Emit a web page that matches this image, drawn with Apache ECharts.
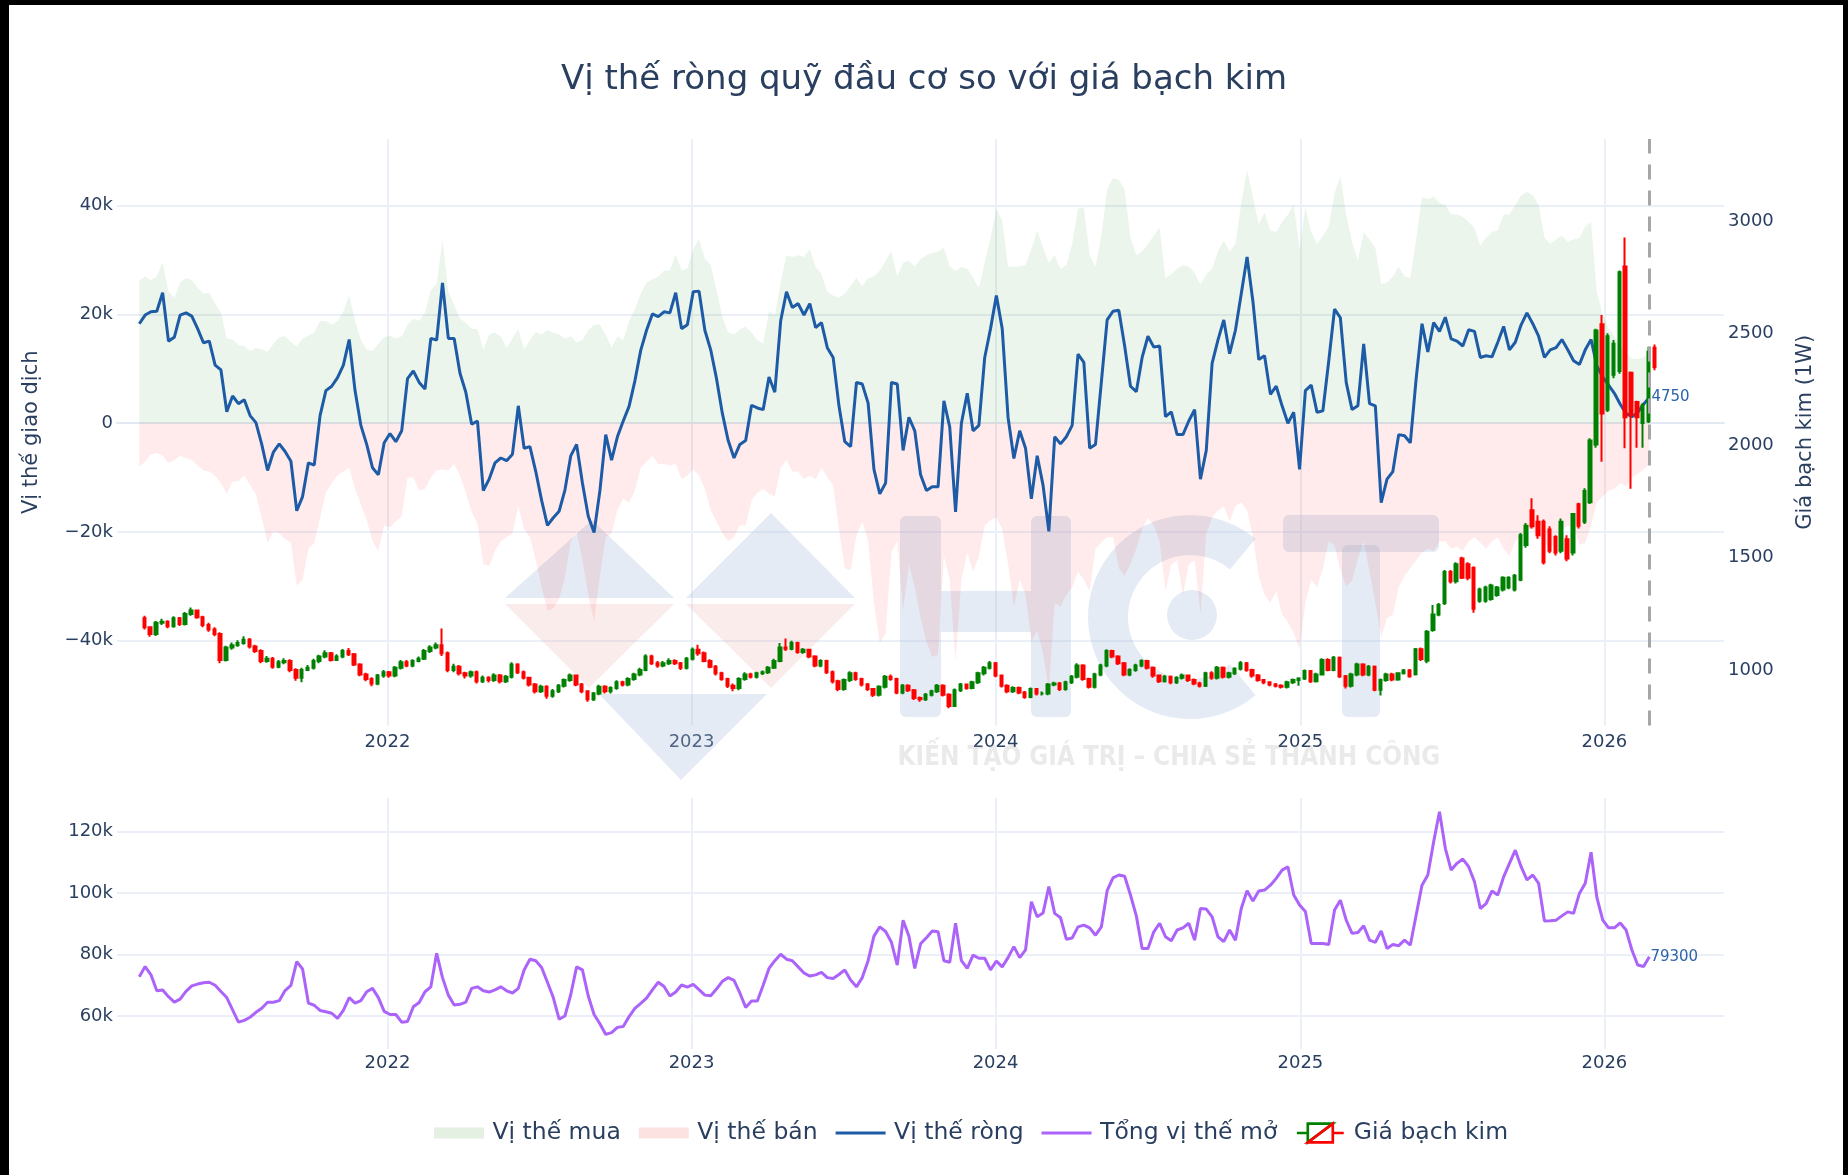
<!DOCTYPE html>
<html>
<head>
<meta charset="utf-8">
<title>Vị thế ròng quỹ đầu cơ so với giá bạch kim</title>
<script src="https://cdn.jsdelivr.net/npm/echarts@6/dist/echarts.min.js"></script>
<style>
  html, body { margin: 0; padding: 0; background: #fff; }
  #chart { position: absolute; left: 0; top: 0; width: 1848px; height: 1175px; }
  #frame {
    position: absolute; left: 0; top: 0; width: 1848px; height: 1175px; box-sizing: border-box;
    border-left: 9px solid #000; border-top: 5px solid #000; border-right: 5px solid #000;
    pointer-events: none;
  }
</style>
</head>
<body>
<div id="chart"></div>
<div id="frame"></div>
<script>
// COT weekly report (thousand contracts), first report Tue 2021-03-09
const firstReport = Date.UTC(2021, 2, 9)

const longPos = [
  26.3, 27.0, 26.3, 27.0, 29.6, 24.2, 23.1, 25.9, 26.7, 26.3,
  24.9, 23.8, 24.0, 22.0, 20.3, 15.6, 15.4, 14.4, 14.2, 13.3,
  13.9, 13.6, 13.1, 14.6, 15.8, 16.0, 14.9, 14.1, 15.6, 16.1,
  16.7, 18.8, 18.8, 18.1, 18.8, 20.6, 23.5, 18.8, 15.3, 13.5,
  13.3, 14.6, 15.8, 16.1, 15.6, 16.0, 18.1, 19.2, 18.8, 20.3,
  24.5, 25.6, 33.8, 24.2, 21.7, 19.2, 18.5, 17.4, 17.3, 13.5,
  16.3, 16.7, 16.0, 13.9, 15.6, 17.4, 13.5, 15.3, 16.8, 16.3,
  17.1, 16.7, 16.3, 15.6, 16.0, 14.9, 15.3, 17.1, 18.1, 18.1,
  16.3, 13.9, 16.0, 15.3, 18.8, 21.0, 23.8, 25.9, 26.5, 27.0,
  28.1, 28.1, 31.1, 28.1, 28.4, 32.0, 33.9, 30.2, 29.1, 24.5,
  19.5, 16.7, 16.3, 17.3, 17.8, 16.7, 15.3, 14.6, 20.6, 19.9,
  25.9, 30.9, 30.6, 30.9, 30.6, 32.0, 28.8, 27.4, 24.2, 23.5,
  23.1, 23.8, 25.2, 26.8, 25.2, 26.7, 27.0, 28.1, 29.9, 31.6,
  27.0, 29.5, 29.9, 28.8, 30.2, 30.9, 31.3, 31.6, 32.3, 28.8,
  28.0, 28.8, 28.4, 26.7, 24.9, 29.5, 34.1, 39.4, 37.3, 28.8,
  28.8, 28.9, 29.1, 32.0, 35.5, 32.3, 29.5, 30.9, 28.4, 29.1,
  33.0, 39.4, 39.8, 30.9, 28.8, 34.5, 43.0, 45.1, 44.8, 43.0,
  34.1, 30.9, 31.6, 33.0, 34.5, 36.0, 26.7, 27.4, 28.4, 29.1,
  28.8, 27.7, 25.5, 27.4, 28.4, 31.6, 33.6, 31.6, 33.0, 40.5,
  46.6, 41.6, 36.6, 38.7, 35.5, 35.2, 37.0, 38.4, 40.2, 32.0,
  39.8, 35.2, 33.0, 34.5, 36.2, 42.3, 45.5, 38.4, 33.4, 29.9,
  35.2, 33.8, 32.3, 25.6, 25.9, 27.0, 28.8, 27.0, 26.7, 33.8,
  41.6, 41.2, 41.7, 40.5, 40.2, 38.4, 38.4, 38.0, 37.0, 35.9,
  32.7, 34.1, 35.2, 35.5, 38.4, 38.4, 40.2, 41.9, 42.6, 41.9,
  40.2, 34.1, 33.0, 33.8, 34.5, 33.4, 33.8, 34.1, 36.2, 37.0,
  24.0, 20.0, 17.5, 16.0, 14.0, 13.0, 11.8, 11.8, 12.2, 12.8
]

const shortPos = [
  -8.0, -7.1, -5.7, -5.5, -6.0, -7.3, -6.8, -6.0, -6.4, -6.8,
  -7.8, -8.7, -8.9, -9.7, -11.0, -13.0, -10.7, -10.7, -9.6, -11.4,
  -13.1, -17.4, -22.0, -19.9, -20.3, -21.3, -22.0, -29.9, -28.8, -23.1,
  -22.0, -17.4, -12.8, -11.0, -9.6, -8.9, -8.2, -12.1, -14.9, -17.8,
  -21.7, -23.5, -18.8, -19.2, -18.1, -17.1, -10.0, -10.0, -12.4, -12.1,
  -10.0, -8.7, -8.5, -8.7, -7.5, -9.6, -12.8, -16.3, -18.5, -25.9,
  -26.3, -23.5, -21.7, -21.0, -20.3, -15.3, -19.5, -21.0, -25.2, -30.2,
  -34.5, -34.1, -32.3, -28.4, -21.7, -20.0, -25.2, -31.6, -36.6, -28.1,
  -21.0, -20.3, -16.0, -13.9, -14.6, -12.4, -8.2, -7.1, -6.0, -7.5,
  -7.5, -7.8, -7.5, -10.3, -9.6, -8.5, -9.6, -12.1, -16.0, -18.1,
  -20.3, -21.7, -21.0, -18.8, -18.8, -14.2, -12.8, -12.1, -13.0, -13.5,
  -8.2, -6.8, -8.9, -8.9, -10.3, -9.6, -10.3, -8.2, -10.0, -11.4,
  -19.5, -26.7, -27.0, -20.6, -18.1, -21.7, -33.1, -40.5, -38.7, -23.8,
  -21.7, -34.5, -26.0, -30.2, -35.9, -40.2, -43.0, -42.6, -24.5, -28.8,
  -44.0, -28.8, -23.8, -27.4, -24.5, -18.8, -17.8, -17.4, -19.5, -25.9,
  -33.8, -28.8, -31.6, -40.2, -38.1, -42.3, -49.0, -33.1, -33.8, -31.6,
  -30.2, -27.4, -28.8, -30.9, -23.1, -22.0, -21.0, -21.0, -26.7, -28.1,
  -25.9, -23.1, -19.5, -17.4, -18.8, -21.7, -30.9, -26.0, -25.2, -31.6,
  -26.0, -25.2, -35.2, -20.3, -17.4, -16.0, -15.3, -18.1, -15.3, -14.6,
  -16.0, -21.0, -28.1, -31.6, -33.1, -30.9, -35.2, -36.6, -38.7, -41.6,
  -33.1, -28.8, -30.2, -26.7, -21.7, -22.5, -27.0, -30.0, -29.0, -25.0,
  -21.7, -27.4, -33.1, -39.4, -35.9, -35.2, -30.2, -28.1, -26.7, -25.2,
  -23.8, -23.1, -23.5, -21.7, -21.7, -23.1, -22.7, -23.5, -21.7, -21.0,
  -22.0, -23.1, -21.7, -21.0, -23.1, -24.5, -21.7, -21.0, -19.5, -19.5,
  -21.0, -22.0, -23.1, -21.7, -19.5, -18.8, -19.2, -22.4, -22.0, -18.8,
  -14.5, -13.5, -12.4, -12.1, -11.0, -11.7, -10.0, -9.3, -8.5, -7.5
]

const netPos = [
  18.3, 19.9, 20.5, 20.6, 24.0, 15.1, 15.8, 19.9, 20.3, 19.7,
  17.4, 14.8, 15.1, 10.7, 9.8, 2.1, 5.0, 3.6, 4.3, 1.4,
  0.1, -3.9, -8.7, -5.3, -3.8, -5.2, -7.0, -16.1, -13.5, -7.3,
  -7.7, 1.4, 6.0, 6.8, 8.4, 10.7, 15.4, 6.0, -0.4, -3.9,
  -8.2, -9.5, -3.6, -1.9, -3.4, -1.4, 8.2, 9.6, 7.5, 6.3,
  15.6, 15.3, 25.8, 15.6, 15.6, 9.2, 5.7, -0.2, 0.4, -12.4,
  -10.3, -7.3, -6.4, -6.9, -5.7, 3.2, -4.6, -4.3, -8.9, -14.2,
  -18.8, -17.4, -16.2, -12.3, -6.0, -3.9, -11.0, -17.1, -20.1, -12.4,
  -2.1, -6.8, -2.5, 0.4, 3.1, 7.8, 13.4, 17.1, 20.1, 19.6,
  20.5, 20.3, 24.0, 17.4, 18.1, 24.2, 24.3, 17.1, 13.5, 8.2,
  1.8, -3.2, -6.4, -3.9, -3.2, 3.3, 2.8, 2.5, 8.5, 5.7,
  18.8, 24.2, 21.3, 22.0, 19.9, 22.0, 17.6, 18.5, 13.9, 12.1,
  3.2, -3.4, -4.3, 7.5, 7.2, 3.7, -8.5, -13.0, -11.0, 7.5,
  7.2, -5.0, 1.1, -1.4, -9.5, -12.4, -11.7, -11.7, 4.1, -0.7,
  -16.3, 0.0, 5.5, -1.4, -0.4, 12.1, 17.4, 23.5, 17.4, 1.1,
  -6.5, -1.4, -4.6, -13.9, -6.0, -11.4, -19.9, -2.5, -3.8, -2.5,
  -0.4, 12.7, 11.2, -4.6, -3.9, 7.5, 19.0, 20.6, 20.8, 14.2,
  6.8, 5.8, 12.1, 16.0, 14.0, 14.2, 1.2, 2.1, -2.1, -2.1,
  0.4, 2.5, -10.3, -5.0, 11.0, 15.3, 19.0, 12.8, 17.1, 23.8,
  30.6, 22.4, 11.7, 12.4, 5.3, 6.8, 3.2, 0.0, 2.0, -8.5,
  6.0, 7.0, 2.0, 2.3, 11.4, 21.0, 19.4, 7.5, 2.5, 3.2,
  14.6, 3.6, 3.2, -14.6, -10.3, -8.9, -2.1, -2.3, -3.6, 8.2,
  18.3, 13.1, 18.5, 16.9, 19.5, 15.5, 15.1, 14.2, 17.2, 16.9,
  12.1, 12.4, 12.2, 14.9, 17.8, 13.5, 14.9, 18.1, 20.3, 18.3,
  16.0, 12.1, 13.5, 13.9, 15.4, 13.5, 11.5, 10.8, 13.5, 15.4,
  10.5, 8.5, 7.0, 5.5, 3.5, 1.8, 1.2, 2.0, 3.5, 4.75
]

const openInterest = [
  72.8, 76.1, 73.4, 68.2, 68.5, 66.3, 64.5, 65.5, 68.0, 69.8,
  70.4, 70.8, 71.0, 70.0, 68.0, 66.0, 62.0, 58.0, 58.6, 59.6,
  61.2, 62.5, 64.5, 64.5, 65.0, 68.3, 70.0, 77.7, 75.3, 64.2,
  63.5, 61.8, 61.4, 60.9, 59.2, 61.8, 66.0, 64.2, 65.0, 67.9,
  69.0, 66.0, 61.5, 60.5, 60.5, 58.0, 58.2, 63.0, 64.4, 67.9,
  69.5, 80.4, 72.5, 66.8, 63.6, 63.8, 64.5, 69.0, 69.5, 68.2,
  67.8, 68.5, 69.5, 68.2, 67.5, 69.0, 75.0, 78.5, 78.0, 75.8,
  71.0, 66.0, 59.0, 60.0, 67.0, 76.0, 75.0, 66.5, 60.5, 57.5,
  54.0, 54.6, 56.3, 56.6, 59.8, 62.5, 64.1, 65.8, 68.5, 71.0,
  69.6, 66.5, 67.8, 70.1, 69.4, 70.3, 68.6, 66.8, 66.6, 68.8,
  71.3, 72.5, 71.6, 67.5, 62.8, 64.9, 64.9, 70.0, 75.5, 78.0,
  80.1, 78.5, 78.0, 76.0, 74.0, 73.0, 73.4, 74.2, 72.5, 72.2,
  73.5, 75.0, 71.7, 69.5, 72.5, 78.0, 86.0, 89.0, 87.5, 84.0,
  76.6, 91.2, 86.0, 75.5, 83.5, 85.5, 87.7, 87.4, 78.0, 77.5,
  90.2, 78.0, 75.5, 79.8, 78.8, 78.8, 75.0, 77.9, 76.0, 79.0,
  82.6, 79.0, 81.5, 97.2, 92.3, 93.5, 102.1, 93.4, 92.0, 85.0,
  85.4, 89.0, 89.6, 88.7, 86.3, 89.0, 100.8, 105.0, 105.9, 105.5,
  99.4, 92.6, 82.0, 82.0, 87.4, 90.2, 85.8, 84.5, 88.0, 88.7,
  90.2, 84.7, 95.0, 94.8, 92.3, 85.8, 84.2, 88.0, 84.7, 95.0,
  100.8, 97.4, 100.7, 101.0, 102.6, 104.8, 107.5, 108.6, 99.4, 96.1,
  94.0, 83.6, 83.6, 83.6, 83.3, 94.5, 97.7, 91.2, 86.9, 87.2,
  89.4, 84.7, 84.0, 87.7, 82.0, 83.3, 82.9, 84.7, 83.1, 92.9,
  102.6, 105.9, 116.7, 126.5, 114.6, 107.5, 109.7, 111.1, 108.6, 103.7,
  95.0, 96.6, 100.7, 99.4, 105.3, 109.7, 114.0, 108.6, 104.3, 105.9,
  103.2, 90.9, 91.0, 91.2, 92.6, 93.9, 93.4, 99.9, 103.2, 113.3,
  98.5, 91.2, 88.7, 88.7, 90.3, 88.0, 81.5, 76.6, 76.1, 79.3
]

// weekly platinum bars (USD/oz), first bar Mon 2021-03-15
const firstBar = Date.UTC(2021, 2, 15)

const opens = [
  1230, 1190, 1160, 1210, 1215, 1195, 1230, 1205, 1250, 1265,
  1235, 1200, 1180, 1160, 1045, 1100, 1110, 1120, 1135, 1105,
  1085, 1040, 1050, 1015, 1035, 1040, 1000, 965, 1000, 1010,
  1040, 1060, 1075, 1045, 1060, 1085, 1070, 1025, 980, 960,
  940, 975, 990, 975, 1010, 1035, 1020, 1040, 1050, 1085,
  1100, 1110, 1075, 1000, 1015, 985, 975, 990, 950, 965,
  955, 975, 950, 970, 1025, 990, 965, 935, 905, 925,
  885, 905, 930, 955, 975, 935, 905, 870, 895, 925,
  905, 920, 945, 935, 960, 980, 1000, 1060, 1030, 1020,
  1030, 1040, 1030, 1010, 1050, 1090, 1075, 1040, 1015, 985,
  960, 930, 920, 960, 980, 970, 985, 990, 1010, 1040,
  1100, 1095, 1120, 1080, 1090, 1060, 1020, 1040, 990, 950,
  915, 955, 985, 960, 935, 915, 890, 925, 970, 960,
  900, 930, 910, 875, 870, 890, 905, 930, 890, 840,
  910, 935, 920, 945, 985, 1010, 1030, 975, 930, 905,
  920, 900, 880, 915, 895, 895, 935, 940, 915, 945,
  970, 1020, 960, 925, 980, 1020, 1085, 1060, 1030, 980,
  1000, 1020, 1040, 1010, 975, 950, 970, 945, 965, 975,
  955, 940, 930, 985, 965, 1010, 970, 985, 1005, 1030,
  1000, 975, 955, 945, 935, 930, 925, 945, 955, 962,
  995, 950, 980, 1045, 1000, 1055, 972, 930, 980, 1024,
  980, 1015, 912, 955, 980, 958, 985, 998, 981, 1092,
  1041, 1178, 1247, 1299, 1437, 1395, 1497, 1471, 1454, 1308,
  1308, 1316, 1334, 1359, 1368, 1359, 1402, 1557, 1712, 1660,
  1660, 1626, 1592, 1531, 1583, 1523, 1738, 1660, 1747, 2005,
  2540, 2160, 2315, 2332, 2798, 2324, 2194, 2100, 2108, 2436
]

const closes = [
  1190, 1160, 1210, 1215, 1195, 1230, 1205, 1250, 1265, 1235,
  1200, 1180, 1160, 1045, 1100, 1110, 1120, 1135, 1105, 1085,
  1040, 1050, 1015, 1035, 1040, 1000, 965, 1000, 1010, 1040,
  1060, 1075, 1045, 1060, 1085, 1070, 1025, 980, 960, 940,
  975, 990, 975, 1010, 1035, 1020, 1040, 1050, 1085, 1100,
  1110, 1075, 1000, 1015, 985, 975, 990, 950, 965, 955,
  975, 950, 970, 1025, 990, 965, 935, 905, 925, 885,
  905, 930, 955, 975, 935, 905, 870, 895, 925, 905,
  920, 945, 935, 960, 980, 1000, 1060, 1030, 1020, 1030,
  1040, 1030, 1010, 1050, 1090, 1075, 1040, 1015, 985, 960,
  930, 920, 960, 980, 970, 985, 990, 1010, 1040, 1100,
  1095, 1120, 1080, 1090, 1060, 1020, 1040, 990, 950, 915,
  955, 985, 960, 935, 915, 890, 925, 970, 960, 900,
  930, 910, 875, 870, 890, 905, 930, 890, 840, 910,
  935, 920, 945, 985, 1010, 1030, 975, 930, 905, 920,
  900, 880, 915, 895, 895, 935, 940, 915, 945, 970,
  1020, 960, 925, 980, 1020, 1085, 1060, 1030, 980, 1000,
  1020, 1040, 1010, 975, 950, 970, 945, 965, 975, 955,
  940, 930, 985, 965, 1010, 970, 985, 1005, 1030, 1000,
  975, 955, 945, 935, 930, 925, 945, 955, 962, 995,
  950, 980, 1045, 1000, 1055, 972, 930, 980, 1024, 980,
  1015, 912, 955, 980, 958, 985, 998, 972, 1092, 1049,
  1170, 1247, 1290, 1437, 1395, 1471, 1411, 1411, 1273, 1359,
  1368, 1376, 1368, 1411, 1411, 1420, 1600, 1643, 1640, 1600,
  1480, 1531, 1523, 1660, 1497, 1695, 1643, 1798, 2022, 2513,
  2143, 2487, 2453, 2772, 2126, 2135, 2126, 2178, 2418, 2350
]

const lows = [
  1180, 1148, 1152, 1200, 1186, 1188, 1196, 1198, 1242, 1228,
  1190, 1170, 1150, 1030, 1038, 1090, 1104, 1112, 1096, 1076,
  1030, 1032, 1005, 1008, 1026, 990, 952, 945, 995, 1002,
  1030, 1052, 1038, 1040, 1052, 1062, 1018, 972, 950, 928,
  932, 965, 966, 968, 1002, 1012, 1012, 1034, 1044, 1076,
  1092, 1062, 990, 990, 975, 962, 966, 940, 942, 944,
  946, 940, 942, 962, 982, 958, 926, 895, 898, 872,
  876, 898, 922, 948, 928, 896, 858, 862, 888, 895,
  895, 912, 926, 928, 952, 972, 994, 1022, 1010, 1012,
  1022, 1022, 1000, 1002, 1042, 1064, 1034, 1008, 976, 952,
  920, 905, 910, 952, 962, 962, 978, 982, 1004, 1034,
  1085, 1088, 1072, 1072, 1052, 1012, 1012, 982, 940, 905,
  908, 946, 952, 926, 906, 880, 882, 918, 952, 892,
  892, 902, 866, 858, 862, 882, 898, 882, 830, 836,
  902, 912, 914, 938, 976, 1002, 968, 922, 896, 898,
  892, 872, 874, 886, 886, 888, 928, 906, 908, 938,
  962, 952, 918, 918, 972, 1012, 1052, 1022, 972, 972,
  992, 1012, 1002, 966, 942, 944, 936, 938, 958, 946,
  932, 922, 924, 956, 958, 962, 962, 978, 998, 992,
  966, 948, 936, 928, 922, 918, 918, 938, 930, 955,
  942, 944, 975, 994, 994, 964, 918, 922, 972, 972,
  972, 905, 886, 948, 950, 952, 980, 966, 975, 1040,
  1030, 1170, 1240, 1290, 1385, 1385, 1405, 1400, 1255, 1300,
  1300, 1308, 1326, 1350, 1360, 1350, 1395, 1545, 1630, 1585,
  1470, 1520, 1510, 1520, 1485, 1510, 1630, 1650, 1740, 1990,
  1928, 2150, 2300, 2320, 1988, 1807, 1990, 1990, 2100, 2335
]

const highs = [
  1242, 1195, 1218, 1228, 1222, 1240, 1236, 1258, 1278, 1270,
  1242, 1210, 1190, 1168, 1108, 1122, 1132, 1150, 1142, 1112,
  1092, 1062, 1058, 1045, 1052, 1048, 1008, 1010, 1022, 1050,
  1068, 1088, 1080, 1070, 1094, 1098, 1076, 1030, 988, 968,
  982, 1000, 996, 1018, 1044, 1045, 1048, 1060, 1094, 1110,
  1122, 1185, 1082, 1028, 1022, 992, 998, 998, 975, 972,
  985, 982, 978, 1034, 1030, 998, 970, 942, 934, 932,
  915, 938, 962, 984, 980, 942, 910, 902, 934, 932,
  928, 954, 952, 968, 988, 1010, 1070, 1068, 1040, 1040,
  1052, 1048, 1036, 1058, 1100, 1112, 1082, 1048, 1022, 992,
  966, 940, 968, 990, 988, 992, 998, 1018, 1050, 1120,
  1140, 1130, 1126, 1098, 1095, 1066, 1048, 1046, 998, 956,
  962, 994, 992, 966, 942, 920, 932, 978, 980, 966,
  938, 936, 915, 882, 898, 912, 938, 936, 896, 918,
  942, 940, 952, 992, 1018, 1040, 1036, 980, 936, 928,
  926, 906, 922, 920, 904, 942, 948, 946, 952, 978,
  1030, 1026, 966, 988, 1028, 1092, 1090, 1066, 1036, 1008,
  1028, 1048, 1046, 1016, 980, 978, 976, 972, 984, 980,
  962, 948, 992, 994, 1018, 1016, 992, 1012, 1040, 1036,
  1006, 982, 960, 950, 942, 936, 952, 962, 968, 1002,
  1000, 988, 1052, 1052, 1062, 1060, 978, 988, 1032, 1030,
  1022, 1020, 962, 988, 988, 990, 1004, 1004, 1098, 1100,
  1178, 1290, 1298, 1445, 1445, 1480, 1505, 1480, 1462, 1366,
  1375, 1384, 1374, 1418, 1418, 1428, 1610, 1655, 1765, 1690,
  1670, 1640, 1600, 1675, 1600, 1700, 1745, 1810, 2032, 2520,
  2582, 2500, 2470, 2780, 2927, 2330, 2200, 2190, 2440, 2450
]

const WEEK = 7 * 24 * 3600 * 1000
const reportDates = netPos.map((_, i) => firstReport + i * WEEK)
const barDates = closes.map((_, i) => firstBar + i * WEEK)
const lastReport = reportDates[reportDates.length - 1]

const xMin = Date.UTC(2021, 1, 10, 5)
const xMax = Date.UTC(2026, 4, 24, 14)

const FONT = 'DejaVu Sans'
const TEXT = '#2a3f5f'
const GRID_LINE = '#ebf0f8'
const UP = '#008000'
const DOWN = '#ff0000'

function kLabel(v) {
  if (v === 0) return '0'
  return (v < 0 ? '\u2212' : '') + Math.abs(v) + 'k'
}
const yearLabel = (v) => String(new Date(v).getUTCFullYear())
const pairs = (dates, vals) => vals.map((v, i) => [dates[i], v])

const candleSvg =
  "<svg xmlns='http://www.w3.org/2000/svg' width='50' height='24' viewBox='-16 -7.68 32 15.36'>" +
  "<path d='M-15,0H-8M-8,6V-6H8Z' fill='none' stroke='" + UP + "' stroke-width='1.7'/>" +
  "<path d='M15,0H8M8,-6V6H-8Z' fill='none' stroke='" + DOWN + "' stroke-width='1.7'/></svg>"
const candleIcon = 'image://data:image/svg+xml;charset=utf-8,' + encodeURIComponent(candleSvg)

function timeAxis(gridIndex, margin, showLine) {
  return {
    type: 'time', gridIndex, min: xMin, max: xMax, splitNumber: 5,
    axisLine: { show: showLine, lineStyle: { color: '#e3e9f2', width: 2 } },
    axisTick: { show: false },
    axisLabel: {
      formatter: yearLabel, color: TEXT, fontSize: 18, margin,
      showMinLabel: false, showMaxLabel: false
    },
    splitLine: { show: true, showMinLine: false, showMaxLine: false, lineStyle: { color: GRID_LINE, width: 2 } }
  }
}

// HCT watermark
const WM_BLUE = 'rgba(165,188,218,0.30)'
const WM_RED = 'rgba(225,120,120,0.14)'
const watermark = [
  { type: 'polygon', shape: { points: [[592, 520], [674, 598], [505, 598]] }, style: { fill: WM_BLUE } },
  { type: 'polygon', shape: { points: [[771, 513], [855, 598], [686, 598]] }, style: { fill: WM_BLUE } },
  { type: 'polygon', shape: { points: [[505, 604], [674, 604], [589, 688]] }, style: { fill: WM_RED } },
  { type: 'polygon', shape: { points: [[686, 604], [855, 604], [771, 688]] }, style: { fill: WM_RED } },
  { type: 'polygon', shape: { points: [[599, 694], [767, 694], [681, 780]] }, style: { fill: WM_BLUE } },
  { type: 'rect', shape: { x: 900, y: 516, width: 41, height: 201, r: 6 }, style: { fill: WM_BLUE } },
  { type: 'rect', shape: { x: 1031, y: 516, width: 40, height: 201, r: 6 }, style: { fill: WM_BLUE } },
  { type: 'rect', shape: { x: 941, y: 591, width: 90, height: 41 }, style: { fill: WM_BLUE } },
  { type: 'sector', shape: { cx: 1190, cy: 617, r: 102, r0: 62, startAngle: 50 * Math.PI / 180, endAngle: 310 * Math.PI / 180, clockwise: true }, style: { fill: WM_BLUE } },
  { type: 'circle', shape: { cx: 1192, cy: 615, r: 25 }, style: { fill: WM_BLUE } },
  { type: 'rect', shape: { x: 1283, y: 515, width: 156, height: 37, r: 6 }, style: { fill: WM_BLUE } },
  { type: 'rect', shape: { x: 1342, y: 545, width: 38, height: 172, r: 6 }, style: { fill: WM_BLUE } },
  {
    type: 'text', x: 1169, y: 758, scaleX: 0.86,
    style: {
      text: 'KIẾN TẠO GIÁ TRỊ – CHIA SẺ THÀNH CÔNG', font: 'bold 27px "DejaVu Sans"',
      fill: 'rgba(160,160,160,0.22)', align: 'center', verticalAlign: 'middle'
    }
  }
].map(el => Object.assign({ z: 1, silent: true }, el))

const chart = echarts.init(document.getElementById('chart'), null, { renderer: 'canvas' })

chart.setOption({
  animation: false,
  useUTC: true,
  backgroundColor: '#fff',
  textStyle: { fontFamily: FONT },
  title: {
    text: 'Vị thế ròng quỹ đầu cơ so với giá bạch kim',
    left: 'center', top: 63, padding: 0,
    textStyle: { fontSize: 34, fontWeight: 'normal', color: TEXT, fontFamily: FONT }
  },
  legend: {
    left: 429, top: 1116, itemWidth: 50, itemHeight: 24, itemGap: 18,
    textStyle: { fontSize: 23.5, color: TEXT, fontFamily: FONT, padding: [0, 0, 0, 3.5] },
    data: [
      { name: 'Vị thế mua', icon: 'path://M0,0H50V11H0Z', itemStyle: { color: '#e3f0e2', borderWidth: 0 } },
      { name: 'Vị thế bán', icon: 'path://M0,0H50V11H0Z', itemStyle: { color: '#fde2e2', borderWidth: 0 } },
      { name: 'Vị thế ròng', icon: 'path://M0,0H50V3H0Z', itemStyle: { color: '#1d5ba6', borderWidth: 0 } },
      { name: 'Tổng vị thế mở', icon: 'path://M0,0H50V3H0Z', itemStyle: { color: '#ab63fa', borderWidth: 0 } },
      { name: 'Giá bạch kim', icon: candleIcon }
    ]
  },
  graphic: { elements: watermark },
  grid: [
    { left: 117, top: 139, width: 1607, height: 586.5, outerBoundsMode: 'none' },
    { left: 117, top: 798, width: 1607, height: 251, outerBoundsMode: 'none' }
  ],
  xAxis: [timeAxis(0, 8, true), timeAxis(1, 5, false)],
  yAxis: [
    {
      type: 'value', gridIndex: 0, position: 'left', min: -55.62, max: 52.29, splitNumber: 5,
      axisLine: { show: false }, axisTick: { show: false },
      axisLabel: { formatter: kLabel, color: TEXT, fontSize: 18, margin: 4, showMinLabel: false, showMaxLabel: false },
      splitLine: { show: true, showMinLine: false, showMaxLine: false, lineStyle: { color: GRID_LINE, width: 2 } },
      name: 'Vị thế giao dịch', nameLocation: 'middle', nameGap: 75, nameRotate: 90,
      nameTextStyle: { fontSize: 21, color: TEXT }
    },
    {
      type: 'value', gridIndex: 0, position: 'right', min: 752.7, max: 3365.8, splitNumber: 5,
      axisLine: { show: false }, axisTick: { show: false },
      axisLabel: { formatter: (v) => String(v), color: TEXT, fontSize: 18, margin: 4, showMinLabel: false, showMaxLabel: false },
      splitLine: { show: false },
      name: 'Giá bạch kim (1W)', nameLocation: 'middle', nameGap: 71, nameRotate: 90,
      nameTextStyle: { fontSize: 21, color: TEXT }
    },
    {
      type: 'value', gridIndex: 1, position: 'left', min: 49.26, max: 130.97, splitNumber: 5,
      axisLine: { show: false }, axisTick: { show: false },
      axisLabel: { formatter: kLabel, color: TEXT, fontSize: 18, margin: 4, showMinLabel: false, showMaxLabel: false },
      splitLine: { show: true, showMinLine: false, showMaxLine: false, lineStyle: { color: GRID_LINE, width: 2 } }
    }
  ],
  series: [
    {
      name: 'Vị thế mua', type: 'line', xAxisIndex: 0, yAxisIndex: 0,
      data: pairs(reportDates, longPos), symbol: 'none',
      lineStyle: { width: 0 }, areaStyle: { color: 'rgba(0,128,0,0.11)', origin: 0 },
      itemStyle: { color: '#e3f0e2' }, z: 2
    },
    {
      name: 'Vị thế bán', type: 'line', xAxisIndex: 0, yAxisIndex: 0,
      data: pairs(reportDates, shortPos), symbol: 'none',
      lineStyle: { width: 0 }, areaStyle: { color: 'rgba(255,0,0,0.115)', origin: 0 },
      itemStyle: { color: '#fde2e2' }, z: 2
    },
    {
      name: 'Vị thế ròng', type: 'line', xAxisIndex: 0, yAxisIndex: 0,
      data: pairs(reportDates, netPos), symbol: 'none',
      lineStyle: { width: 3, color: '#1d5ba6' }, itemStyle: { color: '#1d5ba6' }, z: 3,
      endLabel: {
        show: true, distance: 2, color: '#2c63ad', fontSize: 15, fontFamily: FONT,
        formatter: (p) => String(Math.round(p.value[1] * 1000))
      },
      markLine: {
        silent: true, symbol: ['none', 'none'], label: { show: false },
        lineStyle: { color: '#a6a6a6', width: 3, type: [15, 11] },
        data: [{ xAxis: lastReport }]
      }
    },
    {
      name: 'Giá bạch kim', type: 'candlestick', xAxisIndex: 0, yAxisIndex: 1,
      data: closes.map((c, i) => [barDates[i], opens[i], c, lows[i], highs[i]]),
      barWidth: 3,
      itemStyle: {
        color: UP, color0: DOWN, borderColor: UP, borderColor0: DOWN,
        borderColorDoji: UP, borderWidth: 2
      },
      z: 4
    },
    {
      name: 'Tổng vị thế mở', type: 'line', xAxisIndex: 1, yAxisIndex: 2,
      data: pairs(reportDates, openInterest), symbol: 'none',
      lineStyle: { width: 3, color: '#ab63fa' }, itemStyle: { color: '#ab63fa' },
      endLabel: {
        show: true, distance: 1, color: '#2c63ad', fontSize: 15, fontFamily: FONT,
        formatter: (p) => String(Math.round(p.value[1] * 1000))
      }
    }
  ]
})
</script>
</body>
</html>
